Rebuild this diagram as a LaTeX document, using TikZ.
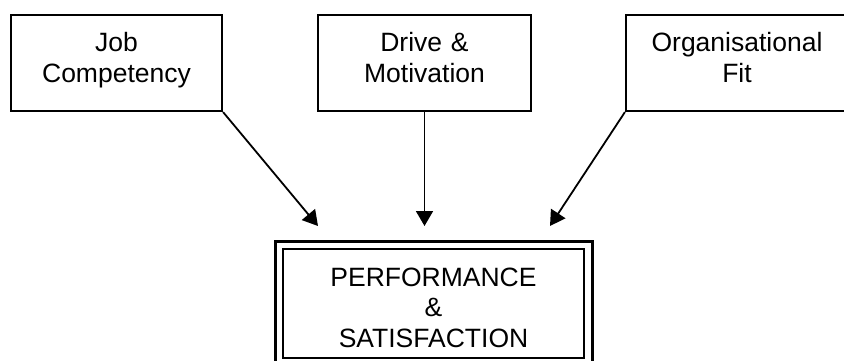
\documentclass[tikz,border=0pt]{standalone}
\usepackage{fontspec}
\setmainfont{Liberation Sans}
\usetikzlibrary{arrows.meta}
\begin{document}
\begin{tikzpicture}[x=1pt,y=-1pt,
  box/.style={draw, line width=2.2pt, rectangle, inner sep=0pt, align=center,
    font=\fontsize{26.5}{30.5}\selectfont},
  topbox/.style={box, text height=37pt, text depth=59pt},
  link/.style={line width=1.8pt, -{Triangle[length=15pt,width=17pt]}}]
  \useasboundingbox (0,0) rectangle (844,361);

  % three factors
  \node[topbox, text width=211pt] (job)   at (116.5,63) {Job\\Competency};
  \node[topbox, text width=213pt] (drive) at (424.5,63) {Drive \&\\Motivation};
  \node[topbox, text width=222pt] (fit)   at (737,63)   {Organisational\\Fit};

  % outcome box with a double frame
  \node[box, text width=301pt, text height=37pt, text depth=72pt] (perf) at (433.5,303.5)
    {PERFORMANCE\\\&\\SATISFACTION};
  \draw[line width=3pt] ([shift={(-6,-6)}]perf.north west) rectangle ([shift={(7,6)}]perf.south east);

  % arrow ends just above the outcome box
  \coordinate (tipjob)   at (318,226);
  \coordinate (tipdrive) at (424.5,226);
  \coordinate (tipfit)   at (550,226);

  \draw[link] (job.south east) -- (tipjob);
  \draw[link] (drive.south) -- (tipdrive);
  \draw[link] (fit.south west) -- (tipfit);
\end{tikzpicture}
\end{document}
